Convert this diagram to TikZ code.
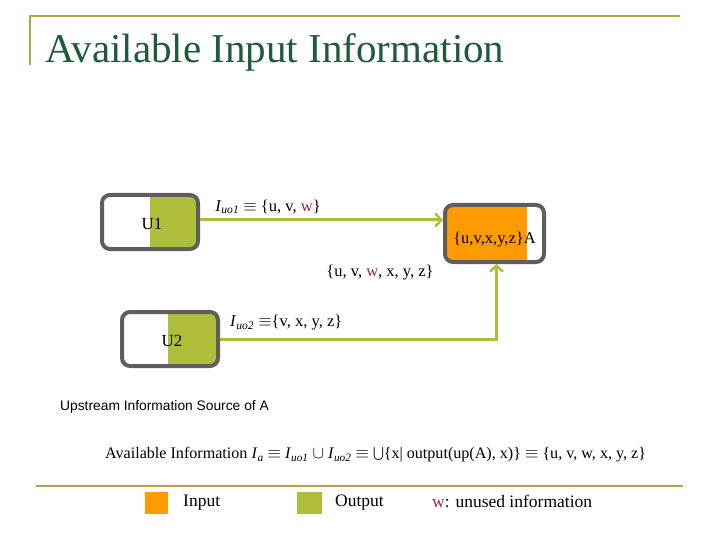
\documentclass[tikz,border=0pt]{standalone}
\usepackage{fontspec}
\setmainfont{Liberation Serif}
\setsansfont{Liberation Sans}
\usetikzlibrary{arrows.meta}
\definecolor{outgreen}{HTML}{B0BD3A}
\definecolor{inorange}{HTML}{FF9A00}
\definecolor{boxgrey}{HTML}{5E5E5E}
\definecolor{rulegold}{HTML}{B8A448}
\definecolor{titlegreen}{HTML}{1D5B39}
\definecolor{unusedred}{HTML}{A3232A}
\newcommand{\Isub}[1]{\textit{I}\textsubscript{\textit{#1}}}
\newcommand{\fsz}[1]{\fontsize{#1}{#1}\selectfont}
\begin{document}
\begin{tikzpicture}[x=1pt,y=-1pt,
  rulel/.style={draw=rulegold,line width=2.5pt},
  unit/.style={draw=boxgrey,line width=4pt,rounded corners=8pt,inner sep=0pt,
    minimum width=96pt,minimum height=54pt,font=\fsz{17}},
  flow/.style={draw=outgreen,line width=3pt,-{Straight Barb[length=6pt,width=13pt,line width=2.5pt]}},
  lbl/.style={inner sep=0pt,font=\fsz{16.5}},
  legsq/.style={minimum width=23pt,minimum height=22pt,inner sep=0pt},
  legtxt/.style={inner sep=0pt,anchor=west,font=\fsz{17.5}}
]
\useasboundingbox (0,0) rectangle (720,540);
% rules
\coordinate (tl) at (30,16);
\coordinate (tr) at (680,16);
\coordinate (tb) at (30,65);
\draw[rulel] (tb) -- (tl) -- (tr);
\coordinate (bl) at (36,486);
\coordinate (br) at (683,486);
\draw[rulel] (bl) -- (br);
% title
\node[anchor=base west,inner sep=0pt,text=titlegreen,font=\fsz{41}] (title) at (45,63) {Available Input Information};
% boxes
\node[unit,path picture={\fill[outgreen,sharp corners] (path picture bounding box.north) rectangle (path picture bounding box.south east);},
  label={[inner sep=0pt,font=\fsz{17},yshift=-2pt,xshift=2pt]center:U1}] (u1) at (150,222) {};
\node[unit,path picture={\fill[outgreen,sharp corners] ([xshift=-2pt]path picture bounding box.north) rectangle (path picture bounding box.south east);},
  label={[inner sep=0pt,font=\fsz{17},yshift=-2pt,xshift=2pt]center:U2}] (u2) at (170,339) {};
\node[unit,minimum width=99pt,minimum height=57pt,
  path picture={\fill[inorange,sharp corners] (path picture bounding box.north west) rectangle ([xshift=-17pt]path picture bounding box.south east);},
  label={[inner sep=0pt,font=\fsz{16.5},yshift=-6.5pt]center:\{u,v,x,y,z\}A}] (a) at (494.5,233.5) {};
% connectors
\draw[flow] ([yshift=2pt]u1.east) -- ([yshift=2pt]u1.east -| a.west);
\coordinate (bend) at ([xshift=2pt]a.south |- u2.east);
\draw[flow] (u2.east) -- (bend) -- ([xshift=2pt]a.south);
% labels
\node[lbl] (l1) at (268,207) {\Isub{uo1} $\equiv$ \{u, v, \textcolor{unusedred}{w}\}};
\node[lbl] (l2) at (380,273) {\{u, v, \textcolor{unusedred}{w}, x, y, z\}};
\node[lbl,anchor=west] (l3) at (230,323) {\Isub{uo2} $\equiv$\{v, x, y, z\}};
\node[inner sep=0pt,anchor=west,font=\sffamily\fsz{13.8}] (ups) at (60,407) {Upstream Information Source of A};
\node[inner sep=0pt,anchor=west,font=\fsz{16.1}] (formula) at (105,455) {Available Information \Isub{a} $\equiv$ \Isub{uo1} $\cup$ \Isub{uo2} $\equiv$ \raisebox{-1pt}{\scalebox{1.3}{$\bigcup$}}\{x| output(up(A), x)\} $\equiv$ \{u, v, w, x, y, z\}};
% legend
\node[legsq,fill=inorange] (legin) at (156.5,503) {};
\node[legtxt] (legintxt) at (183,503) {Input};
\node[legsq,fill=outgreen,minimum width=25pt] (legout) at (309.5,503) {};
\node[legtxt] (legouttxt) at (335,503) {Output};
\node[legtxt] (legw) at (432,501) {\textcolor{unusedred}{w}: unused information};
\end{tikzpicture}
\end{document}
